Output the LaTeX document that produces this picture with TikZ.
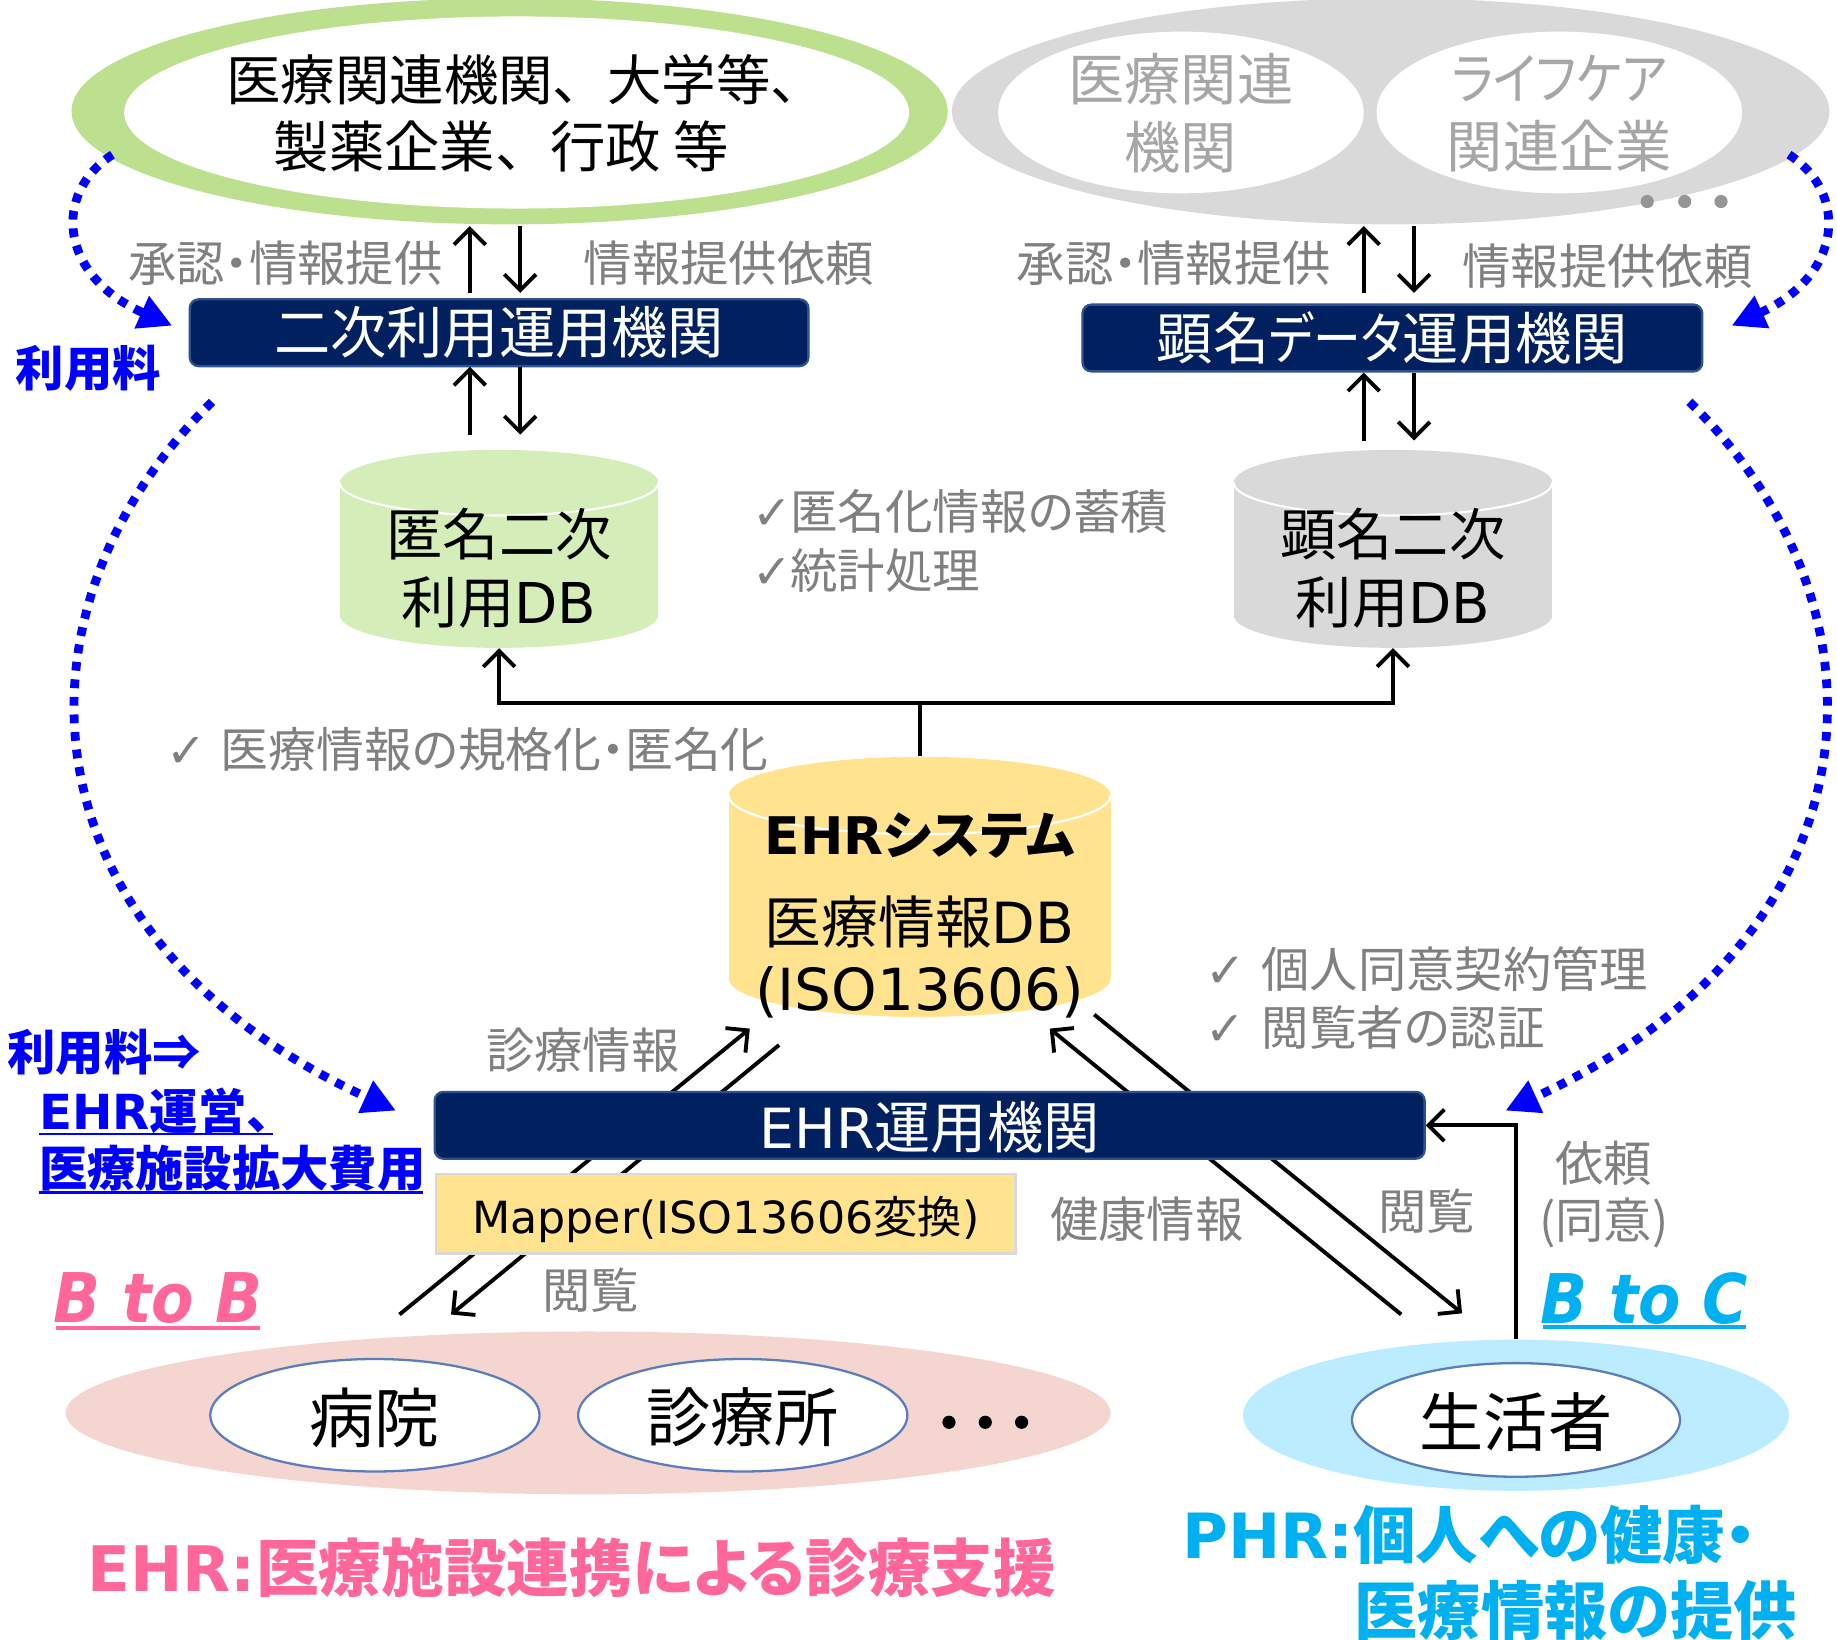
\documentclass[tikz,border=0pt]{standalone}
\usepackage{fontspec}
\usetikzlibrary{arrows.meta,shapes.geometric,calc}
\setmainfont{Noto Sans CJK JP}[RawFeature={+palt}]
\newfontfamily\lat{DejaVu Sans}
\newfontfamily\wide{Noto Sans CJK JP}
\newcommand\fz[1]{\fontsize{#1}{#1}\selectfont}
\definecolor{navy}{HTML}{002060}
\definecolor{navyedge}{HTML}{2F528F}
\definecolor{txtgray}{HTML}{808080}
\definecolor{lightgray}{HTML}{A6A6A6}
\definecolor{grnring}{HTML}{BDE08F}
\definecolor{grncyl}{HTML}{D5EDB9}
\definecolor{grayfill}{HTML}{D9D9D9}
\definecolor{ylw}{HTML}{FFE38F}
\definecolor{pinkfill}{HTML}{F5D5CF}
\definecolor{bluefill}{HTML}{BBECFF}
\definecolor{ellipseedge}{HTML}{5B7DBE}
\definecolor{hotpink}{HTML}{FF6699}
\definecolor{cyanb}{HTML}{00B0F0}
\definecolor{feeblue}{HTML}{0000FF}
\tikzset{
  sz/.style 2 args={minimum width=#1*0.66667pt,minimum height=#2*0.66667pt},
  lbl/.style={inner sep=0pt,text=txtgray,font=\fz{27.5}},
  oval/.style={shape=ellipse,inner sep=0pt},
  plain/.style={inner sep=0pt},
  navybox/.style={draw=navyedge,line width=1.3pt,fill=navy,rounded corners=5pt,inner sep=0pt,text=white,font=\fz{32}},
  arr/.style={line width=2.2pt,draw=black,-{Straight Barb[length=9pt,width=18pt,line width=2.2pt]}},
  ln/.style={line width=2.2pt,draw=black},
  feearr/.style={draw=feeblue,line width=5pt,dash pattern=on 5pt off 5pt,-{Triangle[length=19pt,width=19pt,fill=feeblue]}},
  feetxt/.style={inner sep=0pt,text=feeblue,font=\fz{27.5}\bfseries},
  dot/.style={shape=circle,inner sep=0pt,minimum size=7.5pt},
}
\newcommand\cyl[7]{% name, cx, top, bot, rx, ry, colour
  \fill[#7] (#2,{#4-#6}) ellipse[x radius=#5,y radius=#6];
  \fill[#7] ({#2-#5},{#3+#6}) rectangle ({#2+#5},{#4-#6});
  \fill[#7] (#2,{#3+#6}) ellipse[x radius=#5,y radius=#6];
  \draw[white,line width=1.2pt] ({#2-#5},{#3+#6}) arc[start angle=180,end angle=0,x radius=#5,y radius=#6];
  \node[inner sep=0pt,sz={2*#5}{(#4-#3)}] (#1) at (#2,{(#3+#4)/2}) {};
}
\begin{document}
\begin{tikzpicture}[x=0.66667pt,y=-0.66667pt]
\path[use as bounding box,fill=white] (0,0) rectangle (1568,1399);

% top ellipses
\node[oval,fill=grnring,sz={748}{193}] (orgring) at (435,95) {};
\node[oval,fill=white,sz={670}{164}] (org) at (441,96) {};
\node[plain,font=\fz{31}\wide] (orgt1) at (446.5,68) {\hspace*{3pt}医療関連機関、大学等、};
\node[plain,font=\fz{31.5}\wide] (orgt2) at (428,125) {製薬企業、行政 等};
\node[oval,fill=grayfill,sz={749}{193}] (careset) at (1187,95) {};
\node[oval,fill=white,sz={312}{138}] (med) at (1008,96) {};
\node[oval,fill=white,sz={312}{138}] (life) at (1331,96) {};
\node[plain,align=center,text=lightgray,font=\fontsize{32}{38.7}\selectfont] (medt) at (1008,97) {医療関連\\機関};
\node[plain,align=center,text=lightgray,font=\fontsize{32}{38.7}\selectfont] (lifet) at (1331,97) {\scalebox{0.86}[1]{ライフケア}\\関連企業};
\node[dot,fill=lightgray!90!black] (gd1) at (1406,172) {};
\node[dot,fill=lightgray!90!black] (gd2) at (1438,172) {};
\node[dot,fill=lightgray!90!black] (gd3) at (1469,172) {};

% blue fee curves
\coordinate (fa1) at (96,132);
\coordinate (fa2) at (147,278);
\coordinate (fb1) at (1527,132);
\coordinate (fb2) at (1478,278);
\coordinate (fc1) at (181,343);
\coordinate (fc2) at (338,948);
\coordinate (fd1) at (1442,343);
\coordinate (fd2) at (1285,948);
\draw[feearr] (fa1) .. controls (45,165) and (50,235) .. (fa2);
\draw[feearr] (fb1) .. controls (1578,165) and (1573,235) .. (fb2);
\draw[feearr] (fc1) .. controls (0,520) and (15,800) .. (fc2);
\draw[feearr] (fd1) .. controls (1623,520) and (1608,800) .. (fd2);

% coordination boxes
\node[navybox,sz={528}{57}] (sec) at (426,284) {二次利用運用機関};
\node[navybox,sz={529}{57}] (ken) at (1188.5,288.5) {顕名\scalebox{0.85}[1]{データ}運用機関};

% cylinders
\cyl{db1}{426}{384}{553}{136}{28}{grncyl}
\cyl{db2}{1189}{384}{553}{136}{28}{grayfill}
\node[plain,align=center,font=\fontsize{32}{38.7}\selectfont] (db1t) at (426,485) {匿名二次\\利用{\lat DB}};
\node[plain,align=center,font=\fontsize{32}{38.7}\selectfont] (db2t) at (1189,485) {顕名二次\\利用{\lat DB}};

% arrows in upper part
\coordinate (u1a) at (401,250); \coordinate (u1b) at (401,193);
\coordinate (u2a) at (444,193); \coordinate (u2b) at (444,250);
\coordinate (u3a) at (1164,250); \coordinate (u3b) at (1164,193);
\coordinate (u4a) at (1207,193); \coordinate (u4b) at (1207,250);
\coordinate (u5a) at (401,371); \coordinate (u5b) at (401,313);
\coordinate (u6a) at (444,313); \coordinate (u6b) at (444,371);
\coordinate (u7a) at (1164,376); \coordinate (u7b) at (1164,318);
\coordinate (u8a) at (1207,318); \coordinate (u8b) at (1207,376);
\foreach \a/\b in {u1a/u1b,u2a/u2b,u3a/u3b,u4a/u4b,u5a/u5b,u6a/u6b,u7a/u7b,u8a/u8b}
  \draw[arr] (\a) -- (\b);

% labels upper
\node[lbl] (l1) at (243.5,225) {承認・情報提供};
\node[lbl] (l2) at (622,225) {情報提供依頼};
\node[lbl] (l3) at (1002,225) {承認・情報提供};
\node[lbl] (l4) at (1372,227) {情報提供依頼};
\node[lbl,anchor=west,font=\fz{27}] (l5) at (642,437) {{\lat ✓}\hspace{-1pt}匿名化情報の蓄積};
\node[lbl,anchor=west,font=\fz{27}] (l6) at (642,487) {{\lat ✓}\hspace{-1pt}統計処理};
\node[lbl,anchor=west,font=\fz{27.2}] (l7) at (142,640) {{\lat ✓}\hspace{8pt}医療情報の規格化・匿名化};
\node[lbl,anchor=west] (l8) at (1029,827) {{\lat ✓}\hspace{8.7pt}個人同意契約管理};
\node[lbl,anchor=west,font=\fz{27}] (l9) at (1029,877) {{\lat ✓}\hspace{9.2pt}閲覧者の認証};

% EHR system cylinder
\cyl{ehrdb}{785}{646}{868}{163}{33}{ylw}
\node[plain,font=\fz{29.5}\bfseries] (ehrt) at (785,713) {{\lat EHR}システム};
\node[plain,font=\fz{32.3}] (ehrt2) at (785,787) {医療情報{\lat DB}};
\node[plain,font=\fz{33}\lat] (ehrt3) at (785,847) {(ISO13606)};

\coordinate (jn) at (785,600);
\draw[ln] (ehrdb.north) -- (jn);
\draw[arr] (jn) -| (db1.south);
\draw[arr] (jn) -| (db2.south);

% diagonal arrows
\coordinate (d1a) at (341,1122); \coordinate (d1b) at (640,878);
\coordinate (d2a) at (665,892); \coordinate (d2b) at (385,1122);
\coordinate (d3a) at (1196,1122); \coordinate (d3b) at (896,878);
\coordinate (d4a) at (934,866); \coordinate (d4b) at (1248,1121);
\draw[arr] (d1a) -- (d1b);
\draw[arr] (d2a) -- (d2b);
\draw[arr] (d3a) -- (d3b);
\draw[arr] (d4a) -- (d4b);

% EHR operator and mapper
\node[navybox,sz={845}{57}] (ehrbox) at (793.5,960.5) {};
\node[plain,text=white,font=\fz{32}] (ehrboxt) at (793.5,962) {{\lat\fz{31.5}EHR}運用機関};
\node[draw=grayfill,line width=1.5pt,fill=ylw,sz={495}{68},inner sep=0pt] (mapper) at (619.5,1036) {};
\node[plain,font=\fz{25.2}] (mappert) at (619.5,1040.5) {{\lat Mapper(ISO13606}変換{\lat )}};

% labels lower
\node[lbl] (l10) at (497.5,896) {診療情報};
\node[lbl] (l11) at (504,1101) {閲覧};
\node[lbl] (l12) at (979,1041) {健康情報};
\node[lbl] (l13) at (1217.5,1034) {閲覧};
\node[lbl,align=center,font=\fontsize{27.5}{32.7}\selectfont] (l14) at (1369,1019.5) {依頼\\(同意)};

% fee texts
\node[feetxt] (f1) at (75.5,314) {利用料};
\node[feetxt,anchor=west] (f2) at (6,898) {利用料⇒};
\node[feetxt,anchor=west] (f3) at (33,948) {{\lat EHR}運営、};
\node[feetxt,anchor=west] (f4) at (33,997) {医療施設拡大費用};
\coordinate (f3u) at (33,968); \coordinate (f3v) at (233,968);
\coordinate (f4u) at (33,1018); \coordinate (f4v) at (361,1018);
\draw[feeblue,line width=1.6pt] (f3u) -- (f3v);
\draw[feeblue,line width=1.6pt] (f4u) -- (f4v);

% B to B / B to C
\node[plain,text=hotpink,font=\fz{39}\bfseries\itshape\lat] (bb) at (135,1108) {\scalebox{0.9}[1]{B to B}};
\node[plain,text=cyanb,font=\fz{39}\bfseries\itshape\lat] (bc) at (1403.5,1108) {\scalebox{0.9}[1]{B to C}};
\coordinate (bbu) at (48,1133.5); \coordinate (bbv) at (222,1133.5);
\coordinate (bcu) at (1317,1132.5); \coordinate (bcv) at (1490,1132.5);
\draw[hotpink,line width=2pt] (bbu) -- (bbv);
\draw[cyanb,line width=2pt] (bcu) -- (bcv);

% bottom ellipses
\node[oval,fill=pinkfill,sz={892}{139}] (hospset) at (502,1206) {};
\node[oval,fill=white,draw=ellipseedge,line width=1.3pt,sz={281}{96}] (byoin) at (320,1208) {};
\node[plain,font=\fz{37}] (byoint) at (320,1210) {病院};
\node[oval,fill=white,draw=ellipseedge,line width=1.3pt,sz={281}{96}] (shin) at (634,1208) {};
\node[plain,font=\fz{36.5}] (shint) at (634,1210) {診療所};
\node[dot,fill=black] (bd1) at (810,1214) {};
\node[dot,fill=black] (bd2) at (841,1214) {};
\node[dot,fill=black] (bd3) at (872,1214) {};
\node[oval,fill=bluefill,sz={466}{129}] (citset) at (1294,1208) {};
\node[oval,fill=white,draw=ellipseedge,line width=1.3pt,sz={280}{97}] (sei) at (1294,1212) {};
\node[plain,font=\fz{36.5}] (seit) at (1294,1214) {生活者};

\draw[arr] (citset.north) |- (ehrbox.east);

% bottom titles
\node[plain,text=hotpink,font=\fz{35.7}\bfseries] (ehrtitle) at (488,1338) {{\lat EHR:}医療施設連携による診療支援};
\node[plain,text=cyanb,font=\fz{35.5}\bfseries,anchor=west] (phr1) at (1009,1310) {{\lat PHR:}個人への健康・};
\node[plain,text=cyanb,font=\fz{36}\bfseries,anchor=west] (phr2) at (1156,1375) {医療情報の提供};
\end{tikzpicture}
\end{document}
